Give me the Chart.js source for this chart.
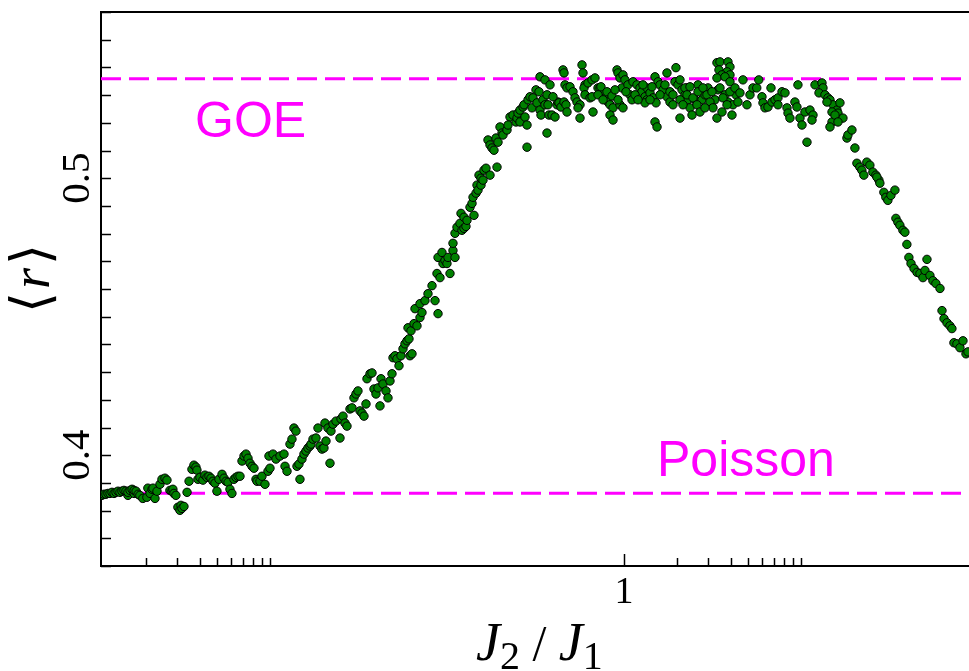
<!DOCTYPE html>
<html>
<head>
<meta charset="utf-8">
<script src="https://cdn.jsdelivr.net/npm/chart.js@4.4.1/dist/chart.umd.min.js"></script>
<style>
  html, body { margin: 0; padding: 0; background: #fff; }
  #wrap { width: 969px; height: 671px; }
</style>
</head>
<body>
<div id="wrap"><canvas id="rChart" width="969" height="671"></canvas></div>
<script>
// mean level-spacing ratio <r> against J2/J1
const flatRegion = [
  [0.001124,0.3855],[0.001153,0.3859],[0.001184,0.3859],[0.001215,0.3862],[0.001248,0.3862],[0.001281,0.3866],
  [0.001315,0.3862],[0.001349,0.3866],[0.001385,0.3870],[0.00142,0.3866],[0.001458,0.3870],[0.001496,0.3873],
  [0.001535,0.3870],[0.001576,0.3855],[0.001576,0.3866],[0.00162,0.3873],[0.001663,0.3877],[0.001707,0.3862],
  [0.001707,0.3873],[0.001752,0.3870],[0.001798,0.3859],[0.00184,0.3855],[0.001913,0.3844],[0.002016,0.3848],
  [0.002042,0.3881],[0.0021,0.3862],[0.002155,0.3877],[0.002184,0.3881],[0.002241,0.3844],[0.0023,0.3870],
  [0.00239,0.3895],[0.002453,0.3913],[0.002551,0.3917],[0.002618,0.3910],[0.00272,0.3873],[0.002792,0.3870],
  [0.002828,0.3877],[0.002865,0.3862],[0.002941,0.3855],[0.003018,0.3812],[0.0031,0.3801],[0.003141,0.3819],
  [0.003182,0.3808],[0.003266,0.3815],[0.0034,0.3866],[0.00349,0.3906],[0.003623,0.3949],[0.003718,0.3964],
  [0.003817,0.3957],[0.003867,0.3946],[0.003917,0.3913],[0.00402,0.3920],[0.00418,0.3910],[0.00429,0.3928],
  [0.004403,0.3920],[0.00452,0.3924],[0.00464,0.3917],[0.00476,0.3906],[0.004886,0.3899],[0.005015,0.3870],
  [0.005148,0.3913],[0.005358,0.3931],[0.005499,0.3917],[0.005644,0.3906],[0.005793,0.3902],[0.00594,0.3877],
  [0.006097,0.3862],[0.006257,0.3913],[0.006422,0.3920],[0.006592,0.3924],[0.00677,0.3924],[0.006949,0.3979],
  [0.007132,0.3997],[0.00732,0.4004],[0.007513,0.3989],[0.00771,0.3971],[0.007914,0.3960],[0.008122,0.3953],
  [0.008336,0.3913],[0.008446,0.3906],[0.00878,0.3906],[0.009012,0.3924],[0.00937,0.3895],[0.009742,0.3942],
  [0.00987,0.3997],[0.01,0.3953],[0.0104,0.4004],[0.01081,0.3986],[0.01139,0.3997],[0.0120,0.4004],
  [0.01216,0.3960],[0.01248,0.3942]
];

const risingRegion = [
  [0.01297,0.4040],[0.01331,0.4058],[0.01366,0.4098],[0.01402,0.4087],[0.01421,0.3960],[0.01458,0.3968],
  [0.01477,0.3913],[0.01516,0.3986],[0.01556,0.4004],[0.01597,0.4015],[0.01639,0.4026],[0.01683,0.4033],
  [0.01705,0.4040],[0.0175,0.4058],[0.01819,0.4062],[0.01867,0.4098],[0.01916,0.4033],[0.01967,0.4022],
  [0.02018,0.4026],[0.02045,0.4116],[0.02072,0.4051],[0.02126,0.4098],[0.02183,0.3971],[0.02211,0.4087],
  [0.0227,0.4112],[0.0236,0.4123],[0.02486,0.4062],[0.02519,0.4131],[0.02585,0.4141],[0.02653,0.4116],
  [0.02723,0.4105],[0.02831,0.4167],[0.02906,0.4171],[0.02982,0.4207],[0.03061,0.4221],[0.03141,0.4232],
  [0.03225,0.4160],[0.0331,0.4152],[0.03397,0.4141],[0.03487,0.4185],[0.03532,0.4276],[0.03673,0.4294],
  [0.0377,0.4297],[0.03869,0.4239],[0.03971,0.4221],[0.04076,0.4243],[0.04183,0.4178],[0.04238,0.4276],
  [0.04349,0.4257],[0.04523,0.4232],[0.04642,0.4207],[0.04764,0.4268],[0.0489,0.4294],[0.04954,0.4352],
  [0.05084,0.4359],[0.05218,0.4348],[0.05356,0.4323],[0.05497,0.4359],[0.05642,0.4384],[0.0579,0.4402],
  [0.05943,0.4413],[0.06021,0.4460],[0.061,0.4420],[0.0618,0.4359],[0.06261,0.4449],[0.06343,0.4366],
  [0.0651,0.4475],[0.06595,0.4529],[0.06769,0.4467],[0.07038,0.4497],[0.07038,0.4547],[0.07224,0.4515],
  [0.07511,0.4558],[0.0781,0.4583],[0.0823,0.4612],[0.0856,0.4558],[0.0878,0.4656],[0.0890,0.4511],
  [0.0890,0.4714],[0.0913,0.4641],[0.09371,0.4732],[0.09493,0.4692],[0.09742,0.4703],[0.09998,0.4692],
  [0.1013,0.4714],[0.104,0.4656],[0.1081,0.4739],[0.1081,0.4765],[0.1110,0.4714],[0.1110,0.4801],
  [0.1139,0.4823],[0.1184,0.4837],[0.1200,0.4873],[0.1215,0.4812],[0.1247,0.4819],[0.1247,0.4859],
  [0.1280,0.4826],[0.1297,0.4848],[0.1349,0.4895],[0.1385,0.4909],[0.1403,0.4931],[0.1421,0.4866],
  [0.1459,0.4946],[0.1478,0.4975],[0.1497,0.4957],[0.1517,0.5011],[0.1556,0.4975],[0.1556,0.5000],
  [0.1597,0.4993],[0.1618,0.5029],[0.1661,0.5036],[0.1705,0.5138],[0.175,0.5011],[0.175,0.5120],
  [0.1796,0.5109],[0.1843,0.5101],[0.1892,0.5145],[0.1917,0.5040],[0.1942,0.5130],[0.1993,0.5185],
  [0.2046,0.5163]
];

const plateauRegion = [
  [0.2072,0.5156],[0.2183,0.5174],[0.227,0.5221],[0.2212,0.5192],[0.2360,0.5228],[0.2455,0.5203],
  [0.2487,0.5217],[0.2519,0.5235],[0.2585,0.5203],[0.2585,0.5246],[0.2688,0.5257],[0.2759,0.5221],
  [0.2832,0.5192],[0.2832,0.5112],[0.2723,0.5265],[0.2869,0.5283],[0.2944,0.5294],[0.3022,0.5254],
  [0.3061,0.5290],[0.3225,0.5272],[0.3353,0.5246],[0.3397,0.5228],[0.3183,0.5319],[0.3310,0.5312],
  [0.3486,0.5283],[0.3578,0.5265],[0.3353,0.5366],[0.3578,0.5355],[0.382,0.5337],[0.3673,0.5301],
  [0.3721,0.5265],[0.377,0.5228],[0.3673,0.5163],[0.3921,0.5228],[0.4077,0.5221],[0.4184,0.5265],
  [0.4239,0.5275],[0.3972,0.5294],[0.4295,0.5272],[0.4408,0.5257],[0.4583,0.5275],[0.4703,0.5265],
  [0.4764,0.5239],[0.4643,0.5337],[0.4524,0.5391],[0.4583,0.5380],[0.4764,0.5326],[0.4955,0.5330],
  [0.5152,0.5312],[0.5288,0.5290],[0.5428,0.5275],[0.5643,0.5265],[0.5499,0.5254],[0.5643,0.5217],
  [0.5792,0.5409],[0.5868,0.5380],[0.6022,0.5337],[0.5945,0.5326],[0.6022,0.5301],[0.6427,0.5290],
  [0.6597,0.5294],[0.6262,0.5344],[0.6597,0.5355],[0.6859,0.5362],[0.7131,0.5326],[0.6683,0.5239],
  [0.732,0.5326],[0.7613,0.5308],[0.7812,0.5290],[0.8123,0.5275],[0.8337,0.5265],[0.8669,0.5254],
  [0.7416,0.5330],[0.8337,0.5228],[0.8669,0.5210],[0.9132,0.5391],[0.9252,0.5380],[0.9494,0.5362],
  [0.9745,0.5326],[0.9494,0.5265],[0.9872,0.5254],[0.9872,0.5373],[1.013,0.5355],[1.053,0.5337],
  [1.081,0.5301],[1.110,0.5283],[1.124,0.5348],[1.184,0.5337],[1.231,0.5326],[1.264,0.5312],
  [1.314,0.5294],[1.348,0.5283],[1.314,0.5272],[1.348,0.5326],[1.403,0.5308],[1.459,0.5290],
  [1.517,0.5272],[1.497,0.5366],[1.497,0.5203],[1.537,0.5185],[1.557,0.5348],[1.597,0.5337],
  [1.661,0.5319],[1.749,0.5294],[1.819,0.5275],[1.891,0.5265],[1.749,0.5380],[1.966,0.5399],
  [1.941,0.5348],[2.018,0.5337],[2.127,0.5319],[2.211,0.5301],[2.299,0.5283],[2.36,0.5254],
  [2.072,0.5217],[0.7131,0.5301],[0.7613,0.5283],[0.8018,0.5312],[0.8557,0.5297],[0.8897,0.5319],
  [0.9252,0.5283],[1.026,0.5312],[1.154,0.5301],[1.200,0.5283],[1.280,0.5337],[1.403,0.5283],
  [1.440,0.5330],[1.597,0.5301],[1.704,0.5337],[1.819,0.5312],[1.891,0.5301],[2.072,0.5283],
  [2.154,0.5265],[2.27,0.5326],[2.519,0.5283],[2.619,0.5337],[2.758,0.5283],[2.868,0.5301],
  [2.982,0.5326],[3.266,0.5283],[3.395,0.5319],[3.720,0.5301],[3.868,0.5275],[4.128,0.5265],
  [4.292,0.5301],[2.072,0.5355],[2.211,0.5326],[2.36,0.5330],[2.27,0.5301],[2.454,0.5290],
  [2.585,0.5265],[2.687,0.5239],[2.422,0.5228],[2.619,0.5312],[2.794,0.5326],[2.943,0.5301],
  [3.06,0.5275],[3.182,0.5254],[3.351,0.5217],[2.868,0.5254],[3.141,0.5312],[3.351,0.5417],
  [3.486,0.5420],[3.868,0.5420],[3.97,0.5402],[3.44,0.5391],[3.819,0.5384],[3.578,0.5373],
  [3.97,0.5373],[3.351,0.5362],[3.72,0.5366],[3.97,0.5348],[3.486,0.5326],[3.625,0.5290],
  [3.819,0.5265],[4.075,0.5228],[3.578,0.5239],[3.97,0.5312],[4.237,0.5326],[4.52,0.5308],
  [4.405,0.5275],[4.951,0.5265],[4.70,0.5355],[5.15,0.5301],[5.355,0.5326],[5.625,0.5326],
  [6.02,0.5294],[5.776,0.5355],[6.098,0.5272],[6.259,0.5254],[6.508,0.5257],[6.856,0.5275],
  [7.129,0.5283],[7.412,0.5290],[7.811,0.5312],[8.121,0.5308],[6.768,0.5326],[7.412,0.5265],
  [8.336,0.5254],[8.445,0.5235],[8.66,0.5217],[9.242,0.5275],[9.486,0.5257],[9.61,0.5337],
  [9.87,0.5217],[10.13,0.5192],[10.53,0.5239],[11.24,0.5246],[11.69,0.5228],[11.54,0.5210],
  [10.81,0.5130],[12.0,0.5337],[13.14,0.5344],[13.31,0.5326],[12.64,0.5308],[13.66,0.5301],
  [14.20,0.5290],[14.58,0.5283],[15.16,0.5265],[15.97,0.5246],[16.18,0.5235],[16.6,0.5272],
  [14.97,0.5203],[14.58,0.5185],[17.26,0.5217],[14.02,0.5275],[14.97,0.5239]
];

const fallingRegion = [
  [18.18,0.5145],[15.56,0.5228],[16.18,0.5203],[18.42,0.5156],[19.40,0.5174],[20.17,0.5109],
  [20.7,0.5054],[21.5,0.5040],[22.07,0.5029],[22.65,0.5011],[23.55,0.5058],[24.5,0.5047],
  [25.48,0.5022],[26.49,0.5011],[27.55,0.4993],[26.84,0.5004],[27.9,0.4982],[29.39,0.4949],
  [30.16,0.4931],[30.96,0.4920],[32.22,0.4938],[33.94,0.4957],[34.38,0.4855],[35.29,0.4841],
  [36.2,0.4830],[37.64,0.4812],[38.63,0.4805],[39.65,0.4761],[40.7,0.4714],[41.84,0.4692],
  [43.51,0.4674],[45.24,0.4660],[47.0,0.4656],[48.87,0.4641],[51.49,0.4707],[50.16,0.4667],
  [53.5,0.4649],[55.63,0.4630],[57.82,0.4620],[61.0,0.4602],[62.61,0.4522],[64.26,0.4493],
  [66.82,0.4478],[69.4,0.4467],[71.23,0.4457],[73.11,0.4406],[76.02,0.4402],[79.1,0.4388],
  [82.25,0.4413],[85.53,0.4366],[87.78,0.4373]
];

const goeLevel = 0.5359;
const poissonLevel = 0.3863;
const xRange = [0.00111, 88.96];
const yRange = [0.36, 0.56];
const xTickValues = [0.002, 0.003, 0.004, 0.005, 0.006, 0.007, 0.008, 0.009, 0.01,
                     1, 2, 3, 4, 5, 6, 7, 8, 9, 10];
const xTickLabels = { 1: '1' };
const yTickLabels = ['0.4', '0.5'];

const toPoints = arr => arr.map(p => ({ x: p[0], y: p[1] }));
const allPoints = [].concat(
  toPoints(flatRegion), toPoints(risingRegion),
  toPoints(plateauRegion), toPoints(fallingRegion)
);

const serif = "'Liberation Serif', 'DejaVu Serif', serif";
const sans = "'Liberation Sans', Arial, sans-serif";

// inward ticks, top frame, rotated labels and the annotations
const framePlugin = {
  id: 'framePlugin',
  afterDraw(chart) {
    const { ctx, chartArea: a, scales: { x, y } } = chart;
    ctx.save();
    ctx.strokeStyle = '#000';
    ctx.lineWidth = 2;
    ctx.beginPath();
    ctx.moveTo(a.left, a.top);
    ctx.lineTo(a.right, a.top);
    ctx.stroke();

    ctx.lineWidth = 1.5;
    y.ticks.forEach(t => {
      const py = Math.round(y.getPixelForValue(t.value)) + 0.5;
      ctx.beginPath();
      ctx.moveTo(a.left, py);
      ctx.lineTo(a.left + 10, py);
      ctx.stroke();
    });
    x.ticks.forEach(t => {
      const px = Math.round(x.getPixelForValue(t.value)) + 0.5;
      const len = t.value === 1 ? 12 : 8;
      ctx.beginPath();
      ctx.moveTo(px, a.bottom);
      ctx.lineTo(px, a.bottom - len);
      ctx.stroke();
    });

    // y tick labels, turned like the original
    ctx.fillStyle = '#000';
    ctx.font = '41px ' + serif;
    ctx.textAlign = 'center';
    ctx.textBaseline = 'middle';
    yTickLabels.forEach(lbl => {
      const py = y.getPixelForValue(parseFloat(lbl));
      ctx.save();
      ctx.translate(a.left - 23, py);
      ctx.rotate(-Math.PI / 2);
      ctx.fillText(lbl, 0, 0);
      ctx.restore();
    });

    // y title <r>
    ctx.save();
    ctx.translate(35, 277);
    ctx.rotate(-Math.PI / 2);
    ctx.textBaseline = 'middle';
    ctx.textAlign = 'left';
    const parts = [['\u27E8', '54px ' + serif], ['r', 'italic 54px ' + serif], ['\u27E9', '54px ' + serif]];
    let w = 0;
    parts.forEach(p => { ctx.font = p[1]; w += ctx.measureText(p[0]).width + 3; });
    let cx = -w / 2;
    parts.forEach(p => { ctx.font = p[1]; ctx.fillText(p[0], cx, 0); cx += ctx.measureText(p[0]).width + 3; });
    ctx.restore();

    // x title J2 / J1
    ctx.textAlign = 'left';
    ctx.textBaseline = 'alphabetic';
    const base = 660;
    let tx = 476;
    const seg = [
      ['J', 'italic 54px ' + serif, 0],
      ['2', '40px ' + serif, 9],
      [' / ', '50px ' + serif, 0],
      ['J', 'italic 54px ' + serif, 0],
      ['1', '40px ' + serif, 9]
    ];
    seg.forEach(s => {
      ctx.font = s[1];
      ctx.fillText(s[0], tx, base + s[2]);
      tx += ctx.measureText(s[0]).width;
    });

    // regime labels
    ctx.fillStyle = '#ff00ff';
    ctx.font = '50px ' + sans;
    ctx.fillText('GOE', 195, 137);
    ctx.fillText('Poisson', 657, 476);
    ctx.restore();
  }
};

const ctx = document.getElementById('rChart');
new Chart(ctx, {
  type: 'scatter',
  data: {
    datasets: [
      {
        label: '<r>',
        data: allPoints,
        pointRadius: 4.2,
        pointBackgroundColor: '#008000',
        pointBorderColor: '#000',
        pointBorderWidth: 1,
        order: 0
      },
      {
        type: 'line',
        label: 'GOE',
        data: [{ x: xRange[0], y: goeLevel }, { x: xRange[1], y: goeLevel }],
        borderColor: '#ff00ff',
        borderWidth: 3,
        borderDash: [20, 8],
        pointRadius: 0,
        order: 1
      },
      {
        type: 'line',
        label: 'Poisson',
        data: [{ x: xRange[0], y: poissonLevel }, { x: xRange[1], y: poissonLevel }],
        borderColor: '#ff00ff',
        borderWidth: 3,
        borderDash: [20, 8],
        pointRadius: 0,
        order: 1
      }
    ]
  },
  options: {
    responsive: false,
    animation: false,
    layout: { autoPadding: false, padding: { top: 12, right: 0, bottom: 0, left: 0 } },
    plugins: { legend: { display: false }, tooltip: { enabled: false } },
    scales: {
      x: {
        type: 'logarithmic',
        min: xRange[0],
        max: xRange[1],
        afterBuildTicks: s => { s.ticks = xTickValues.map(v => ({ value: v })); },
        afterFit: s => { s.height = 105; s.paddingLeft = 0; s.paddingRight = 0; },
        grid: { display: false, drawTicks: false },
        border: { display: true, color: '#000', width: 2 },
        ticks: {
          autoSkip: false,
          maxRotation: 0,
          padding: 4,
          color: '#000',
          font: { family: serif, size: 38 },
          callback: v => xTickLabels[v] || ''
        }
      },
      y: {
        min: yRange[0],
        max: yRange[1],
        afterFit: s => { s.width = 101; s.paddingTop = 0; s.paddingBottom = 0; },
        grid: { display: false, drawTicks: false },
        border: { display: true, color: '#000', width: 2 },
        ticks: { stepSize: 0.01, display: false }
      }
    }
  },
  plugins: [framePlugin]
});
</script>
</body>
</html>
